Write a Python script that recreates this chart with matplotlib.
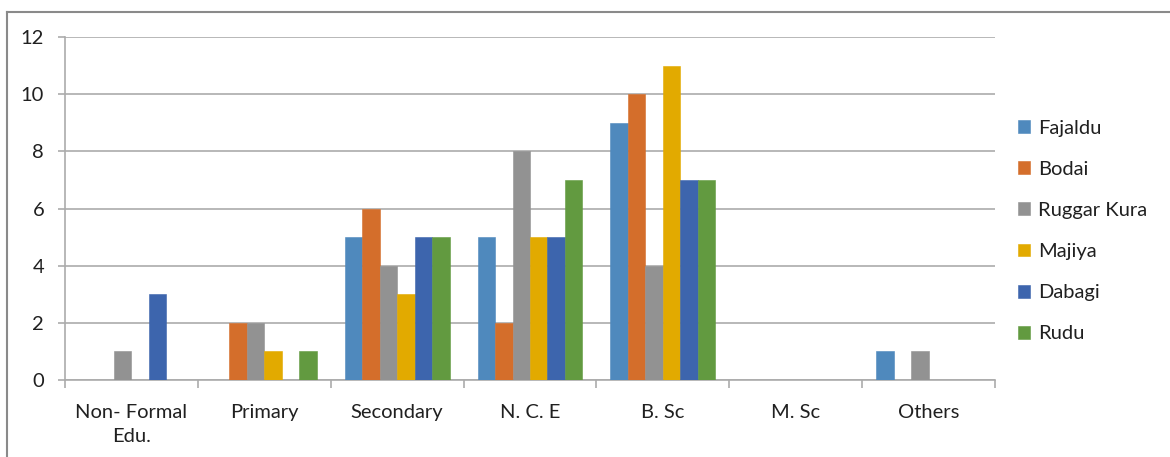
import matplotlib
matplotlib.use("Agg")
import matplotlib.pyplot as plt
from matplotlib.lines import Line2D
import numpy as np

categories = ["Non- Formal\nEdu.", "Primary", "Secondary", "N. C. E", "B. Sc", "M. Sc", "Others"]
series_names = ["Fajaldu", "Bodai", "Ruggar Kura", "Majiya", "Dabagi", "Rudu"]
fajaldu = [0, 0, 5, 5, 9, 0, 1]
bodai = [0, 2, 6, 2, 10, 0, 0]
ruggar_kura = [1, 2, 4, 8, 4, 0, 1]
majiya = [0, 1, 3, 5, 11, 0, 0]
dabagi = [3, 0, 5, 5, 7, 0, 0]
rudu = [0, 1, 5, 7, 7, 0, 0]
yticks = [0, 2, 4, 6, 8, 10, 12]

series = [fajaldu, bodai, ruggar_kura, majiya, dabagi, rudu]
colors = ["#4F89BD", "#D46E2B", "#929292", "#E2AA00", "#3D65AD", "#629A40"]

plt.rcParams["font.family"] = ["Lato", "DejaVu Sans"]
grid_c = "#ABABAB"
text_c = "#202020"
fs = 14.5

fig = plt.figure(figsize=(11.70, 4.57), dpi=100)
ax = fig.add_axes([65 / 1170, 1 - 380 / 457, 930 / 1170, 343 / 457])

n = len(series)
bar_w = 0.1316
x = np.arange(len(categories))
for i, (vals, c, name) in enumerate(zip(series, colors, series_names)):
    offs = (i - (n - 1) / 2) * bar_w
    ax.bar(x + offs, vals, width=bar_w, color=c, label=name,
           edgecolor=c, linewidth=0.4, zorder=3)

ax.set_xlim(-0.5, len(categories) - 0.5)
ax.set_ylim(0, 12)
ax.set_yticks(yticks)
ax.set_yticklabels([str(v) for v in yticks])
ax.yaxis.grid(True, color=grid_c, linewidth=1.2, zorder=0)
ax.tick_params(axis="y", length=5, width=1.2, color=grid_c, pad=10,
               labelsize=fs, labelcolor=text_c)

# category labels centred, ticks at category boundaries
ax.set_xticks(x)
ax.set_xticklabels(categories, linespacing=1.5)
ax.set_xticks(np.arange(len(categories) + 1) - 0.5, minor=True)
ax.tick_params(axis="x", which="major", length=0, pad=17,
               labelsize=fs, labelcolor=text_c)
ax.tick_params(axis="x", which="minor", length=6, width=1.2, color=grid_c)

for side in ["top", "right"]:
    ax.spines[side].set_visible(False)
for side in ["left", "bottom"]:
    ax.spines[side].set_color(grid_c)
    ax.spines[side].set_linewidth(1.2)

leg = fig.legend(loc="center left", bbox_to_anchor=(1018 / 1170, 1 - 231 / 457),
                 frameon=False, fontsize=fs, handlelength=0.6, handleheight=0.6,
                 handletextpad=0.4, labelspacing=1.2, borderpad=0,
                 borderaxespad=0)
for t in leg.get_texts():
    t.set_color(text_c)

# outer chart frame (top and left edges)
fig.add_artist(Line2D([7 / 1170, 1], [1 - 12 / 457, 1 - 12 / 457],
                      transform=fig.transFigure, color="#8A8A8A", linewidth=1.5))
fig.add_artist(Line2D([7 / 1170, 7 / 1170], [0, 1 - 12 / 457],
                      transform=fig.transFigure, color="#8A8A8A", linewidth=1.5))

fig.savefig("out.png", dpi=100, facecolor="white")
